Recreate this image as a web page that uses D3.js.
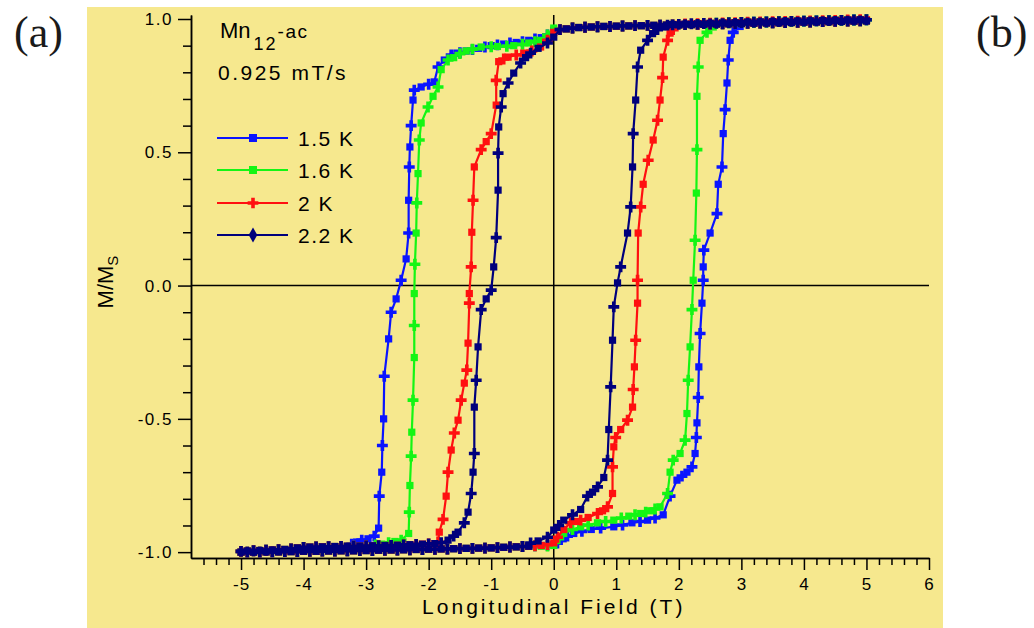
<!DOCTYPE html>
<html><head><meta charset="utf-8">
<script src="https://cdn.jsdelivr.net/npm/d3@7"></script>
<style>body{margin:0;background:#fff;} svg{display:block;}</style>
</head><body><svg id="c" width="1034" height="628"></svg>
<script>
// ---------------- data ----------------
const temps = ["1.5 K", "1.6 K", "2 K", "2.2 K"];
const colors = ["#0a14ff", "#14f514", "#ff1010", "#00007c"];
const xTicks = [-5, -4, -3, -2, -1, 0, 1, 2, 3, 4, 5, 6];
const yTicks = [-1.0, -0.5, 0.0, 0.5, 1.0];
const yTickLabels = ["-1.0", "-0.5", "0.0", "0.5", "1.0"];

// saturated top band read along the sweep-down branches (H in T, M/Ms)
const topDown = [[5.0,0.993],[4.9,0.993],[4.8,0.992],[4.7,0.992],[4.6,0.991],[4.5,0.991],[4.4,0.990],[4.3,0.990],[4.2,0.989],[4.1,0.989],[4.0,0.988],[3.9,0.988],[3.8,0.987],[3.7,0.987],[3.6,0.986],[3.5,0.986],[3.4,0.985],[3.3,0.985],[3.2,0.984],[3.1,0.984],[3.0,0.983],[2.9,0.983],[2.8,0.982],[2.7,0.982],[2.6,0.981],[2.5,0.981],[2.4,0.980],[2.3,0.980],[2.2,0.979],[2.1,0.979],[2.0,0.978],[1.9,0.978],[1.8,0.977],[1.7,0.977],[1.6,0.976],[1.5,0.976],[1.4,0.975],[1.3,0.975],[1.2,0.974],[1.1,0.974],[1.0,0.973],[0.9,0.972],[0.8,0.972],[0.7,0.971],[0.6,0.970],[0.5,0.969],[0.4,0.968],[0.3,0.966],[0.2,0.963],[0.1,0.960]];
// saturated bottom band read along the sweep-down branches
const bottomDown = [[-1.9,-0.968],[-2.0,-0.969],[-2.1,-0.970],[-2.2,-0.971],[-2.3,-0.972],[-2.4,-0.973],[-2.5,-0.974],[-2.6,-0.975],[-2.7,-0.975],[-2.8,-0.976],[-2.9,-0.976],[-3.0,-0.977],[-3.1,-0.977],[-3.2,-0.978],[-3.3,-0.978],[-3.4,-0.979],[-3.5,-0.979],[-3.6,-0.980],[-3.7,-0.980],[-3.8,-0.981],[-3.9,-0.981],[-4.0,-0.982],[-4.1,-0.984],[-4.2,-0.988],[-4.3,-0.990],[-4.4,-0.991],[-4.5,-0.992],[-4.6,-0.993],[-4.7,-0.994],[-4.8,-0.995],[-4.9,-0.996],[-5.0,-0.997]];
// saturated bottom band read along the sweep-up branches
const bottomUp = [[-5.0,-1.0],[-4.9,-1.0],[-4.8,-1.0],[-4.7,-1.0],[-4.6,-0.999],[-4.5,-0.999],[-4.4,-0.999],[-4.3,-0.998],[-4.2,-0.998],[-4.1,-0.998],[-4.0,-0.997],[-3.9,-0.997],[-3.8,-0.997],[-3.7,-0.996],[-3.6,-0.996],[-3.5,-0.996],[-3.4,-0.995],[-3.3,-0.995],[-3.2,-0.995],[-3.1,-0.994],[-3.0,-0.994],[-2.9,-0.994],[-2.8,-0.993],[-2.7,-0.993],[-2.6,-0.992],[-2.5,-0.992],[-2.4,-0.991],[-2.3,-0.991],[-2.2,-0.990],[-2.1,-0.990],[-2.0,-0.989],[-1.9,-0.989],[-1.8,-0.988],[-1.7,-0.988],[-1.6,-0.987],[-1.5,-0.987],[-1.4,-0.986],[-1.3,-0.986],[-1.2,-0.985],[-1.1,-0.985],[-1.0,-0.984],[-0.9,-0.983],[-0.8,-0.982],[-0.7,-0.981],[-0.6,-0.980],[-0.5,-0.979],[-0.4,-0.978],[-0.3,-0.976]];
// saturated top band read along the sweep-up branches
const topUp = [[1.9,0.979],[2.0,0.980],[2.1,0.981],[2.2,0.982],[2.3,0.982],[2.4,0.983],[2.5,0.984],[2.6,0.984],[2.7,0.985],[2.8,0.986],[2.9,0.986],[3.0,0.987],[3.1,0.988],[3.2,0.988],[3.3,0.989],[3.4,0.989],[3.5,0.990],[3.6,0.990],[3.7,0.991],[3.8,0.991],[3.9,0.992],[4.0,0.992],[4.1,0.993],[4.2,0.993],[4.3,0.994],[4.4,0.994],[4.5,0.995],[4.6,0.995],[4.7,0.996],[4.8,0.996],[4.9,0.997],[5.0,0.997]];

const down15 = [[0,0.958],[-0.1,0.94],[-0.2,0.93],[-0.3,0.925],[-0.4,0.92],[-0.5,0.915],[-0.6,0.912],[-0.7,0.91],[-0.8,0.906],[-0.9,0.903],[-1.0,0.9],[-1.1,0.895],[-1.2,0.89],[-1.3,0.885],[-1.4,0.88],[-1.5,0.874],[-1.55,0.872],[-1.64,0.865],[-1.75,0.846],[-1.85,0.82],[-1.91,0.764],[-2.0,0.755],[-2.12,0.745],[-2.23,0.733],[-2.25,0.696],[-2.28,0.60],[-2.30,0.52],[-2.31,0.445],[-2.32,0.32],[-2.32,0.197],[-2.36,0.10],[-2.44,0.02],[-2.52,-0.05],[-2.60,-0.10],[-2.64,-0.20],[-2.71,-0.34],[-2.72,-0.50],[-2.74,-0.60],[-2.75,-0.70],[-2.79,-0.79],[-2.80,-0.91],[-2.87,-0.94],[-2.97,-0.95],[-3.07,-0.955],[-3.15,-0.962],[-3.23,-0.97]];
const up15 = [[-0.2,-0.975],[-0.1,-0.974],[0.0,-0.972],[0.06,-0.966],[0.15,-0.95],[0.22,-0.94],[0.32,-0.93],[0.45,-0.922],[0.6,-0.915],[0.75,-0.91],[0.96,-0.905],[1.1,-0.898],[1.25,-0.89],[1.38,-0.885],[1.50,-0.88],[1.62,-0.872],[1.75,-0.86],[1.86,-0.79],[1.97,-0.73],[2.05,-0.715],[2.13,-0.70],[2.21,-0.68],[2.26,-0.63],[2.28,-0.57],[2.29,-0.515],[2.31,-0.42],[2.32,-0.305],[2.34,-0.18],[2.37,-0.066],[2.39,0.02],[2.39,0.07],[2.40,0.133],[2.50,0.197],[2.61,0.27],[2.63,0.38],[2.69,0.445],[2.71,0.57],[2.74,0.66],[2.77,0.76],[2.79,0.846],[2.82,0.92],[2.87,0.95],[2.98,0.972]];

const down16 = [[0,0.966],[-0.1,0.94],[-0.21,0.92],[-0.3,0.915],[-0.4,0.91],[-0.5,0.905],[-0.64,0.90],[-0.75,0.898],[-0.9,0.897],[-1.0,0.896],[-1.16,0.895],[-1.3,0.887],[-1.4,0.88],[-1.5,0.87],[-1.6,0.855],[-1.69,0.846],[-1.80,0.81],[-1.85,0.745],[-1.93,0.71],[-2.01,0.67],[-2.12,0.61],[-2.15,0.546],[-2.17,0.42],[-2.19,0.31],[-2.20,0.197],[-2.22,0.08],[-2.23,-0.03],[-2.23,-0.15],[-2.23,-0.27],[-2.25,-0.43],[-2.27,-0.55],[-2.28,-0.64],[-2.30,-0.75],[-2.31,-0.85],[-2.32,-0.93],[-2.44,-0.955],[-2.54,-0.96],[-2.64,-0.965],[-2.75,-0.97],[-2.85,-0.973]];
const up16 = [[-0.2,-0.978],[-0.1,-0.977],[0,-0.975],[0.08,-0.95],[0.16,-0.93],[0.3,-0.915],[0.43,-0.905],[0.55,-0.898],[0.7,-0.89],[0.83,-0.885],[0.96,-0.88],[1.08,-0.872],[1.2,-0.865],[1.3,-0.86],[1.39,-0.855],[1.47,-0.85],[1.55,-0.845],[1.62,-0.838],[1.70,-0.83],[1.82,-0.78],[1.86,-0.70],[1.91,-0.655],[2.02,-0.63],[2.10,-0.58],[2.13,-0.48],[2.15,-0.355],[2.18,-0.23],[2.21,-0.09],[2.23,0.02],[2.26,0.17],[2.28,0.347],[2.29,0.51],[2.29,0.71],[2.31,0.82],[2.34,0.92],[2.45,0.95],[2.55,0.97]];

const down20 = [[0,0.95],[-0.1,0.92],[-0.21,0.895],[-0.35,0.88],[-0.48,0.872],[-0.6,0.865],[-0.73,0.857],[-0.8,0.85],[-0.88,0.84],[-0.92,0.77],[-0.92,0.677],[-1.0,0.57],[-1.08,0.54],[-1.16,0.51],[-1.27,0.445],[-1.29,0.32],[-1.31,0.2],[-1.32,0.07],[-1.35,-0.03],[-1.35,-0.066],[-1.37,-0.216],[-1.39,-0.317],[-1.43,-0.366],[-1.48,-0.43],[-1.53,-0.505],[-1.59,-0.553],[-1.64,-0.617],[-1.69,-0.70],[-1.72,-0.79],[-1.77,-0.877],[-1.83,-0.925],[-1.85,-0.962]];
const up20 = [[-0.2,-0.975],[-0.1,-0.972],[0.0,-0.965],[0.06,-0.944],[0.16,-0.915],[0.27,-0.89],[0.35,-0.885],[0.43,-0.88],[0.55,-0.87],[0.70,-0.855],[0.78,-0.845],[0.86,-0.83],[0.94,-0.78],[0.94,-0.68],[0.96,-0.605],[0.99,-0.57],[1.07,-0.54],[1.18,-0.505],[1.26,-0.456],[1.27,-0.39],[1.29,-0.305],[1.31,-0.205],[1.34,-0.066],[1.34,0.02],[1.35,0.197],[1.39,0.295],[1.43,0.38],[1.51,0.47],[1.59,0.546],[1.66,0.62],[1.70,0.696],[1.74,0.78],[1.75,0.857],[1.82,0.92],[1.86,0.947],[1.91,0.96]];

const down22 = [[0,0.932],[-0.1,0.91],[-0.25,0.89],[-0.37,0.872],[-0.45,0.855],[-0.53,0.835],[-0.64,0.797],[-0.73,0.76],[-0.81,0.72],[-0.84,0.67],[-0.88,0.595],[-0.89,0.497],[-0.89,0.358],[-0.92,0.18],[-0.96,0.07],[-1.0,-0.017],[-1.08,-0.05],[-1.16,-0.09],[-1.21,-0.23],[-1.24,-0.355],[-1.27,-0.456],[-1.27,-0.63],[-1.29,-0.70],[-1.32,-0.78],[-1.37,-0.85],[-1.43,-0.89],[-1.53,-0.925],[-1.6,-0.94],[-1.69,-0.955],[-1.80,-0.965]];
const up22 = [[-0.37,-0.966],[-0.25,-0.958],[-0.1,-0.944],[0,-0.917],[0.08,-0.9],[0.16,-0.88],[0.3,-0.86],[0.43,-0.84],[0.54,-0.79],[0.62,-0.775],[0.70,-0.755],[0.80,-0.72],[0.86,-0.655],[0.88,-0.54],[0.91,-0.38],[0.94,-0.205],[0.96,-0.08],[1.02,0.01],[1.07,0.07],[1.18,0.197],[1.23,0.295],[1.26,0.445],[1.27,0.57],[1.31,0.696],[1.34,0.82],[1.39,0.883],[1.50,0.92],[1.58,0.945],[1.66,0.96],[1.74,0.97],[1.82,0.977]];

const seriesDown = [down15, down16, down20, down22];
const seriesUp = [up15, up16, up20, up22];

// ---------------- drawing ----------------
const svg = d3.select("#c");
const W = 1034, H = 628;
svg.append("rect").attr("x", 0).attr("y", 0).attr("width", W).attr("height", H).attr("fill", "#ffffff");
svg.append("rect").attr("x", 87).attr("y", 7).attr("width", 856).attr("height", 621).attr("fill", "#f6e88e");

const x = d3.scaleLinear().domain([-5.8, 6]).range([191, 929]);
const y = d3.scaleLinear().domain([-1.022, 1.015]).range([558, 15]);

const font = "'Liberation Sans', Arial, sans-serif";
const ink = "#000";

// zero lines
svg.append("line").attr("x1", x(-5.8)).attr("x2", x(6)).attr("y1", y(0)).attr("y2", y(0))
  .attr("stroke", ink).attr("stroke-width", 1.5);
svg.append("line").attr("x1", x(0)).attr("x2", x(0)).attr("y1", y(1.015)).attr("y2", y(-1.022))
  .attr("stroke", ink).attr("stroke-width", 1.5);

// x axis: minor ticks then major
const xMinor = d3.range(-56, 61, 2).map(v => v / 10).filter(v => Math.abs(v - Math.round(v)) > 1e-6);
const gxm = svg.append("g").attr("transform", `translate(0,${y(-1.022)})`)
  .call(d3.axisBottom(x).tickValues(xMinor).tickSize(7).tickSizeOuter(0).tickFormat(""));
const gx = svg.append("g").attr("transform", `translate(0,${y(-1.022)})`)
  .call(d3.axisBottom(x).tickValues(xTicks).tickSize(12).tickSizeOuter(0).tickPadding(8).tickFormat(d => String(d)));
[gxm, gx].forEach(g => {
  g.selectAll("line").attr("stroke", ink).attr("stroke-width", 1.5);
  g.select(".domain").attr("stroke", ink).attr("stroke-width", 1.5);
});
gx.selectAll("text").attr("font-family", font).attr("font-size", 17).attr("letter-spacing", "1px").attr("fill", ink);

// y axis
const yMinor = d3.range(-10, 11).map(v => v / 10).filter(v => Math.abs(v * 2 - Math.round(v * 2)) > 1e-6);
const gym = svg.append("g").attr("transform", `translate(${x(-5.8)},0)`)
  .call(d3.axisLeft(y).tickValues(yMinor).tickSize(8).tickSizeOuter(0).tickFormat(""));
const gy = svg.append("g").attr("transform", `translate(${x(-5.8)},0)`)
  .call(d3.axisLeft(y).tickValues(yTicks).tickSize(13).tickSizeOuter(0).tickPadding(5)
    .tickFormat((d, i) => yTickLabels[i]));
[gym, gy].forEach(g => {
  g.selectAll("line").attr("stroke", ink).attr("stroke-width", 1.5);
  g.select(".domain").attr("stroke", ink).attr("stroke-width", 1.5);
});
gy.selectAll("text").attr("font-family", font).attr("font-size", 17).attr("letter-spacing", "1.5px").attr("fill", ink);

// axis titles
svg.append("text").attr("x", x(0)).attr("y", 614).attr("text-anchor", "middle")
  .attr("font-family", font).attr("font-size", 21).attr("letter-spacing", "3px").attr("fill", ink)
  .text("Longitudinal Field (T)");
const yl = svg.append("text").attr("transform", `translate(113,282) rotate(-90)`)
  .attr("text-anchor", "middle").attr("font-family", font).attr("font-size", 22).attr("fill", ink);
yl.append("tspan").text("M/M");
yl.append("tspan").attr("font-size", 15).attr("dy", 5).text("S");

// curves
const line = d3.line().x(d => x(d[0])).y(d => y(d[1]));
const symSquare = d3.symbol().type(d3.symbolSquare).size(52);
const symCross = d3.symbol().type(d3.symbolCross).size(66);

temps.forEach((t, i) => {
  const g = svg.append("g");
  const dn = seriesDown[i], up = seriesUp[i];
  const branchDown = topDown.filter(p => p[0] > dn[0][0])
    .concat(dn, bottomDown.filter(p => p[0] < dn[dn.length - 1][0]));
  const branchUp = bottomUp.filter(p => p[0] < up[0][0])
    .concat(up, topUp.filter(p => p[0] > up[up.length - 1][0]));
  [branchDown, branchUp].forEach(br => {
    g.append("path").datum(br).attr("d", line).attr("fill", "none")
      .attr("stroke", colors[i]).attr("stroke-width", 2.2);
    g.selectAll(null).data(br).enter().append("path")
      .attr("transform", d => `translate(${x(d[0])},${y(d[1])})`)
      .attr("d", (d, k) => (k % 2 ? symCross() : symSquare()))
      .attr("fill", colors[i]);
  });
});

// annotation
const ann = svg.append("text").attr("x", 220).attr("y", 38).attr("font-family", font)
  .attr("font-size", 22).attr("fill", ink);
ann.append("tspan").text("Mn");
ann.append("tspan").attr("font-size", 18).attr("letter-spacing", "2px").attr("dy", 12).attr("dx", 3).text("12");
ann.append("tspan").attr("font-size", 19).attr("letter-spacing", "1.5px").attr("dy", -12).text("-ac");
svg.append("text").attr("x", 218).attr("y", 80).attr("font-family", font).attr("font-size", 21)
  .attr("letter-spacing", "2.5px").attr("fill", ink).text("0.925 mT/s");

// legend
const legSyms = [d3.symbolSquare, d3.symbolSquare, d3.symbolCross, d3.symbolDiamond];
const legY = [138, 170, 203, 235];
temps.forEach((t, i) => {
  const g = svg.append("g").attr("transform", `translate(0,${legY[i]})`);
  g.append("line").attr("x1", 217).attr("x2", 288).attr("y1", 0).attr("y2", 0)
    .attr("stroke", colors[i]).attr("stroke-width", 2.2);
  g.append("path").attr("transform", "translate(253,0)")
    .attr("d", d3.symbol().type(legSyms[i]).size(64)()).attr("fill", colors[i]);
  g.append("text").attr("x", 298).attr("y", 0).attr("dy", "0.36em").attr("font-family", font)
    .attr("font-size", 21).attr("letter-spacing", "1.5px").attr("fill", ink).text(t);
});

// panel labels
svg.append("text").attr("x", 14).attr("y", 47).attr("font-family", "'Liberation Serif', 'Times New Roman', serif")
  .attr("font-size", 44).attr("fill", "#1a1a1a").text("(a)");
svg.append("text").attr("x", 976).attr("y", 47).attr("font-family", "'Liberation Serif', 'Times New Roman', serif")
  .attr("font-size", 44).attr("fill", "#1a1a1a").text("(b)");
</script>
</body></html>
